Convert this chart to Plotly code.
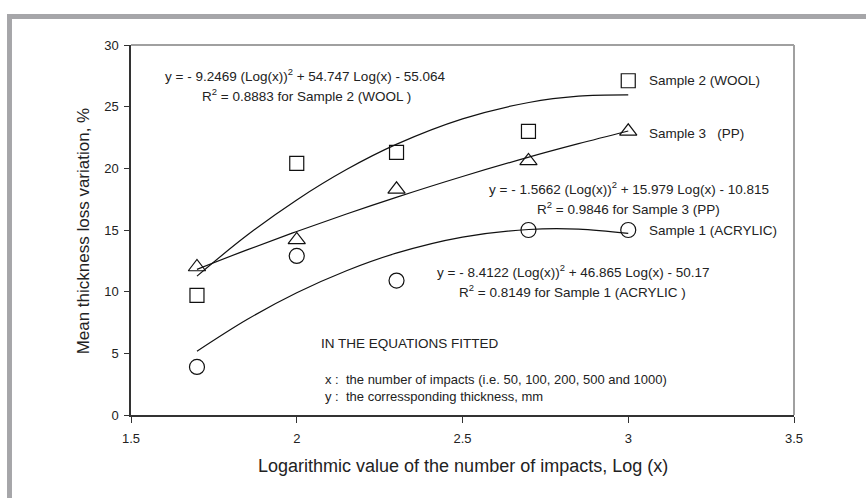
import plotly.graph_objects as go

# ---- data ----
log_x = [1.699, 2.0, 2.301, 2.699, 3.0]
wool = [9.7, 20.4, 21.3, 23.0, 27.1]       # Sample 2 (WOOL)
pp = [12.0, 14.2, 18.3, 20.6, 23.0]        # Sample 3 (PP)
acrylic = [3.9, 12.9, 10.9, 15.0, 15.0]    # Sample 1 (ACRYLIC)

# fitted curves
trend_x = [1.699, 1.85, 2.0, 2.15, 2.3, 2.5, 2.7, 2.85, 3.0]
wool_fit = [11.26, 14.57, 17.44, 19.90, 21.94, 24.01, 25.34, 25.86, 25.96]
pp_fit = [11.81, 13.39, 14.88, 16.30, 17.65, 19.34, 20.91, 22.00, 23.03]
acrylic_fit = [5.17, 7.74, 9.91, 11.70, 13.12, 14.42, 15.04, 15.07, 14.72]

x_ticks = [1.5, 2, 2.5, 3, 3.5]
y_ticks = [0, 5, 10, 15, 20, 25, 30]

FONT = "Liberation Sans, Arial, sans-serif"
INK = "#222222"
ANN_SIZE = 13.5

fig = go.Figure()
for fy in (wool_fit, pp_fit, acrylic_fit):
    fig.add_trace(go.Scatter(x=trend_x, y=fy, mode="lines", line_shape="spline",
                             line=dict(color="#111111", width=1.2),
                             hoverinfo="skip", showlegend=False))

for vals, sym, sz in ((wool, "square-open", 14), (pp, "triangle-up-open", 15),
                      (acrylic, "circle-open", 15)):
    fig.add_trace(go.Scatter(x=log_x, y=vals, mode="markers",
                             marker=dict(symbol=sym, size=sz, color="#111111",
                                         line=dict(width=1.2, color="#111111")),
                             showlegend=False))

def ann(px, py, text, anchor="center", size=ANN_SIZE):
    # px, py: position in paper fractions of the plot area
    fig.add_annotation(x=px, y=py, xref="paper", yref="paper", text=text, showarrow=False,
                       xanchor=anchor, yanchor="middle",
                       font=dict(family=FONT, size=size, color=INK))

ann(0.2625, 0.919, "y = - 9.2469 (Log(x))<sup>2</sup> + 54.747 Log(x) - 55.064")
ann(0.264, 0.865, "R<sup>2</sup> = 0.8883 for Sample 2 (WOOL )")
ann(0.7785, 0.903, "Sample 2 (WOOL)", "left")
ann(0.7785, 0.762, "Sample 3 &nbsp; (PP)", "left")
ann(0.751, 0.614, "y = - 1.5662 (Log(x))<sup>2</sup> + 15.979 Log(x) - 10.815")
ann(0.751, 0.560, "R<sup>2</sup> = 0.9846 for Sample 3 (PP)")
ann(0.7785, 0.500, "Sample 1 (ACRYLIC)", "left")
ann(0.6665, 0.389, "y = - 8.4122 (Log(x))<sup>2</sup> + 46.865 Log(x) - 50.17")
ann(0.6665, 0.335, "R<sup>2</sup> = 0.8149 for Sample 1 (ACRYLIC )")
ann(0.2835, 0.192, "IN THE EQUATIONS FITTED", "left")
ann(0.2895, 0.097, "x : &nbsp;the number of impacts (i.e. 50, 100, 200, 500 and 1000)", "left", 13)
ann(0.2895, 0.049, "y : &nbsp;the corressponding thickness, mm", "left", 13)

# axis titles
fig.add_annotation(x=-0.072, y=0.497, xref="paper", yref="paper", textangle=-90,
                   text="Mean thickness loss variation, %", showarrow=False,
                   xanchor="center", yanchor="middle",
                   font=dict(family=FONT, size=17, color=INK))
fig.add_annotation(x=0.5, y=-0.138, xref="paper", yref="paper",
                   text="Logarithmic value of the number of impacts, Log (x)", showarrow=False,
                   xanchor="center", yanchor="middle",
                   font=dict(family=FONT, size=18, color=INK))

# frame (gray bars) and plot top/right border
GRAY = "#a6a6a9"
fig.add_shape(type="rect", xref="paper", yref="paper", x0=-0.187, x1=1.2,
              y0=1.0703, y1=1.0838, fillcolor=GRAY, line_width=0, layer="below")
fig.add_shape(type="rect", xref="paper", yref="paper", x0=-0.187, x1=-0.1795,
              y0=-0.3, y1=1.0838, fillcolor=GRAY, line_width=0, layer="below")
fig.add_shape(type="line", xref="paper", yref="paper", x0=0, x1=1, y0=1, y1=1,
              line=dict(color="#a0a0a0", width=2))
fig.add_shape(type="line", xref="paper", yref="paper", x0=1, x1=1, y0=0, y1=1,
              line=dict(color="#a0a0a0", width=2))

fig.update_layout(
    width=866, height=498,
    margin=dict(l=131, r=72, t=45, b=83),
    paper_bgcolor="white", plot_bgcolor="white",
    font=dict(family=FONT, size=13, color=INK),
    xaxis=dict(range=[1.5, 3.5], tickvals=x_ticks, ticktext=[str(v) for v in x_ticks],
               showgrid=False, zeroline=False, showline=True, linecolor="#333333",
               linewidth=1.5, ticks="outside", ticklen=6, tickcolor="#333333",
               ticklabelstandoff=5, tickfont=dict(family=FONT, size=13, color=INK)),
    yaxis=dict(range=[0, 30], tickvals=y_ticks, showgrid=False, zeroline=False,
               showline=True, linecolor="#333333", linewidth=1.5, ticks="outside",
               ticklen=5, tickcolor="#333333", ticklabelstandoff=3,
               tickfont=dict(family=FONT, size=13, color=INK)),
)

fig.write_html("out.html", config={"displayModeBar": False},
               post_script="document.body.style.margin='0';document.body.style.overflow='hidden';")
